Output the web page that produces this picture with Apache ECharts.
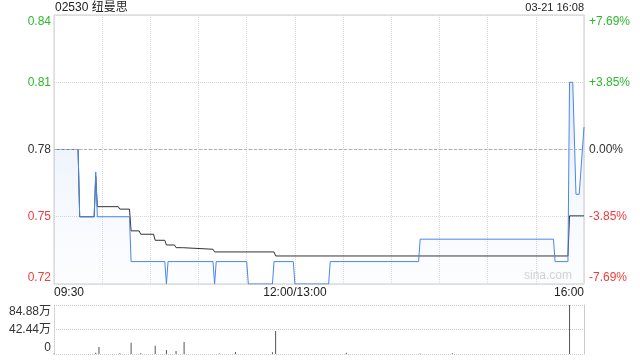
<!DOCTYPE html>
<html><head><meta charset="utf-8">
<script src="https://cdn.jsdelivr.net/npm/echarts@6/dist/echarts.min.js"></script>
<style>html,body{margin:0;padding:0;background:#fff}#c{width:640px;height:360px}</style>
</head><body><div id="c"></div>
<script>
const title = '02530 纽曼思';
const dateText = '03-21 16:08';
const prevClose = 0.78;
const timeTickIdx = [0, 150, 330];
const timeTickLabels = ['09:30', '12:00/13:00', '16:00'];
const priceTicks = [0.72, 0.75, 0.78, 0.81, 0.84];
const priceTickLabels = ['0.72', '0.75', '0.78', '0.81', '0.84'];
const pctTickLabels = ['-7.69%', '-3.85%', '0.00%', '+3.85%', '+7.69%'];
const volTicks = [0, 42.44, 84.88];
const volTickLabels = ['0', '42.44万', '84.88万'];

// minute index of each price change point, and the price
const priceIdx = [0, 15, 16, 25, 26, 27, 47, 48, 69, 70, 71, 99, 100, 101, 120, 121, 136, 137, 149, 150, 171, 172, 227, 228, 311, 312, 320, 321, 323, 325, 327, 330];
const priceVal = [0.78, 0.78, 0.75, 0.75, 0.77, 0.75, 0.75, 0.73, 0.73, 0.72, 0.73, 0.73, 0.72, 0.73, 0.73, 0.72, 0.72, 0.73, 0.73, 0.72, 0.72, 0.73, 0.73, 0.74, 0.74, 0.73, 0.73, 0.81, 0.81, 0.76, 0.76, 0.79];

const avgIdx = [0, 15, 16, 25, 26, 27, 40, 41, 47, 48, 53, 54, 62, 63, 69, 70, 75, 76, 80, 81, 99, 100, 137, 138, 320, 321, 330];
const avgVal = [0.78, 0.78, 0.75, 0.75, 0.768, 0.7545, 0.7545, 0.7534, 0.7534, 0.7437, 0.7437, 0.7422, 0.7422, 0.7395, 0.7395, 0.7374, 0.7374, 0.7362, 0.7362, 0.7355, 0.7355, 0.7343, 0.7343, 0.7325, 0.7325, 0.7504, 0.7504];

// volume in 万
const volIdx = [0, 26, 28, 41, 48, 54, 63, 70, 76, 81, 103, 113, 136, 138, 182, 228, 248, 321];
const volVal = [1.0, 2.0, 12.1, 1.2, 19.6, 1.5, 14.4, 7.0, 5.2, 20.8, 1.0, 3.5, 3.0, 39.9, 2.0, 1.0, 1.2, 84.88];

const FONT = '"Liberation Sans", Arial, "Noto Sans CJK SC", sans-serif';
const GREEN = '#2eb82e', RED = '#f03c3c', BLACK = '#333';

function zip(a, b) { return a.map((x, i) => [x, b[i]]); }
function nearestIdx(arr, v) {
  let best = 0;
  arr.forEach((x, i) => { if (Math.abs(x - v) < Math.abs(arr[best] - v)) best = i; });
  return best;
}
function colorKey(v) {
  if (Math.abs(v - prevClose) < 1e-6) return 'k';
  return v > prevClose ? 'g' : 'r';
}
const richBase = {};
[['g', GREEN], ['r', RED], ['k', BLACK]].forEach(([k, c]) => {
  richBase[k] = { color: c, fontSize: 12, fontFamily: FONT };
  richBase[k + 'T'] = { color: c, fontSize: 12, fontFamily: FONT, padding: [14, 0, 0, 0] };
  richBase[k + 'B'] = { color: c, fontSize: 12, fontFamily: FONT, padding: [0, 0, 12, 0] };
});
function posSuffix(i, n) { return i === n - 1 ? 'T' : (i === 0 ? 'B' : ''); }

const chart = echarts.init(document.getElementById('c'), null, { renderer: 'canvas' });
chart.setOption({
  animation: false,
  backgroundColor: '#fff',
  textStyle: { fontFamily: FONT },
  graphic: [
    { type: 'text', left: 55, top: 2, style: { text: title, fontSize: 12, fill: '#222', fontFamily: FONT } },
    { type: 'text', right: 56, top: 2, style: { text: dateText, fontSize: 11, fill: '#222', fontFamily: FONT } },
    { type: 'text', right: 68, top: 270, style: { text: 'sina.com', fontSize: 12, fill: '#d4d4d4', fontFamily: FONT } }
  ],
  grid: [
    { left: 54, right: 56, top: 15, height: 269, show: true, borderColor: '#cccccc', borderWidth: 1, containLabel: false },
    { left: 54, right: 56, top: 305, height: 49, containLabel: false }
  ],
  xAxis: [
    {
      type: 'value', gridIndex: 0, min: 0, max: 330, interval: 30,
      axisLine: { show: false }, axisTick: { show: false },
      splitLine: { show: true, lineStyle: { color: '#d8d8d8', type: 'dotted', width: 1 } },
      axisLabel: {
        margin: 3, fontSize: 12, color: '#222', fontFamily: FONT,
        alignMinLabel: 'left', alignMaxLabel: 'right',
        formatter: (v) => { const i = timeTickIdx.indexOf(Math.round(v)); return i >= 0 ? timeTickLabels[i] : ''; }
      }
    },
    {
      type: 'value', gridIndex: 1, min: 0, max: 330, interval: 30,
      axisLine: { show: false }, axisTick: { show: false }, axisLabel: { show: false },
      splitLine: { show: false }
    }
  ],
  yAxis: [
    {
      type: 'value', gridIndex: 0, min: priceTicks[0], max: priceTicks[priceTicks.length - 1], interval: 0.03,
      axisLine: { show: false }, axisTick: { show: false },
      splitLine: { show: true, lineStyle: { color: '#d8d8d8', type: 'dotted', width: 1 } },
      axisLabel: {
        margin: 3, rich: richBase,
        formatter: (v) => {
          const i = nearestIdx(priceTicks, v);
          return '{' + colorKey(priceTicks[i]) + posSuffix(i, priceTicks.length) + '|' + priceTickLabels[i] + '}';
        }
      }
    },
    {
      type: 'value', gridIndex: 0, position: 'right', min: priceTicks[0], max: priceTicks[priceTicks.length - 1], interval: 0.03,
      axisLine: { show: false }, axisTick: { show: false }, splitLine: { show: false },
      axisLabel: {
        margin: 5, rich: richBase,
        formatter: (v) => {
          const i = nearestIdx(priceTicks, v);
          return '{' + colorKey(priceTicks[i]) + posSuffix(i, priceTicks.length) + '|' + pctTickLabels[i] + '}';
        }
      }
    },
    {
      type: 'value', gridIndex: 1, min: 0, max: volTicks[2], interval: volTicks[1],
      axisLine: { show: true, lineStyle: { color: '#cccccc', type: 'dotted' } }, axisTick: { show: false },
      splitLine: { show: true, lineStyle: { color: '#cccccc', type: 'dotted', width: 1 } },
      axisLabel: {
        margin: 3, rich: richBase,
        formatter: (v) => {
          const i = nearestIdx(volTicks, v);
          return '{k' + posSuffix(i, volTicks.length) + '|' + volTickLabels[i] + '}';
        }
      }
    },
    {
      type: 'value', gridIndex: 1, position: 'right', min: 0, max: volTicks[2], interval: volTicks[1],
      axisLine: { show: true, lineStyle: { color: '#cccccc' } }, axisTick: { show: false },
      splitLine: { show: false }, axisLabel: { show: false }
    }
  ],
  series: [
    {
      name: 'avg', type: 'line', xAxisIndex: 0, yAxisIndex: 0, z: 2,
      data: zip(avgIdx, avgVal), symbol: 'none', silent: true,
      lineStyle: { color: '#333', width: 1 }
    },
    {
      name: 'price', type: 'line', xAxisIndex: 0, yAxisIndex: 0, z: 3,
      data: zip(priceIdx, priceVal), symbol: 'none', silent: true,
      lineStyle: { color: '#4a86ec', width: 1 },
      areaStyle: {
        origin: 'start',
        color: new echarts.graphic.LinearGradient(0, 0, 0, 1, [
          { offset: 0, color: 'rgba(74,134,236,0.22)' },
          { offset: 0.5, color: 'rgba(74,134,236,0.09)' },
          { offset: 1, color: 'rgba(74,134,236,0.02)' }
        ])
      },
      markLine: {
        silent: true, symbol: 'none', label: { show: false },
        lineStyle: { color: '#b0b0b0', type: [3, 2], width: 1 },
        data: [{ yAxis: prevClose }]
      }
    },
    {
      name: 'vol', type: 'bar', xAxisIndex: 1, yAxisIndex: 2, barWidth: 1,
      data: zip(volIdx, volVal), silent: true,
      itemStyle: { color: '#555' }
    }
  ]
});
</script>
</body></html>
